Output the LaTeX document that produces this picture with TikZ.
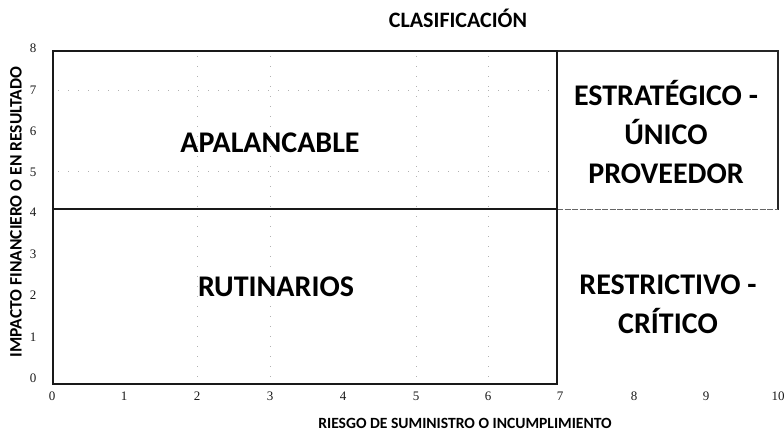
\documentclass[tikz,border=0pt]{standalone}
\usepackage{fontspec}
\setmainfont{Carlito}
\newfontfamily\tickfont{Liberation Serif}
\begin{document}
\begin{tikzpicture}[x=1pt,y=-1pt,
  box/.style={draw=black!90,line width=2.8pt},
  rbox/.style={draw=black!85,line width=1.8pt},
  grid/.style={draw=black!30,line width=0.5pt,dash pattern=on 1pt off 9pt},
  quad/.style={font=\fontsize{30}{39}\selectfont\bfseries,align=center,text=black},
  tick/.style={font=\tickfont\fontsize{13}{15}\selectfont,text=black!90},
  axtitle/.style={font=\fontsize{15.6}{17}\selectfont\bfseries,text=black}]
\useasboundingbox (0,0) rectangle (784,435);
% faint grid
\foreach \xx in {197,270,416,488}{\draw[grid] (\xx,56) -- (\xx,380);}
\foreach \yy in {90,171}{\draw[grid] (58,\yy) -- (552,\yy);}
% boxes
\draw[rbox] (557,51) -- (778,51) -- (778,210);
\draw[draw=black!60,line width=1pt,dash pattern=on 6pt off 1.5pt] (557,210) -- (778,210);
\draw[box] (53,51) rectangle (557,209);
\draw[box] (53,209) rectangle (557,384);
% quadrant labels
\node[quad] (apal) at (270,143) {APALANCABLE};
\node[quad] (rut) at (276,287) {RUTINARIOS};
\node[quad] (estr) at (666,132) {ESTRATÉGICO -\\ÚNICO\\PROVEEDOR};
\node[quad] (restr) at (668,304) {RESTRICTIVO -\\CRÍTICO};
% ticks
\foreach \lab/\xx in {0/52,1/124,2/197,3/270,4/343,5/416,6/488,7/560,8/634,9/706,10/778}
  {\node[tick] (x\lab) at (\xx,396) {\lab};}
\foreach \lab/\yy in {8/48,7/90,6/131,5/172,4/212,3/254,2/295,1/337,0/378}
  {\node[tick] (y\lab) at (33,\yy) {\lab};}
% titles
\node[axtitle,font=\fontsize{22}{24}\selectfont\bfseries] (title) at (458,18) {CLASIFICACIÓN};
\node[axtitle] (xtitle) at (465,423) {RIESGO DE SUMINISTRO O INCUMPLIMIENTO};
\node[axtitle,font=\fontsize{17.5}{19}\selectfont\bfseries,rotate=90] (ytitle) at (16,212) {IMPACTO FINANCIERO O EN RESULTADO};
\end{tikzpicture}
\end{document}
